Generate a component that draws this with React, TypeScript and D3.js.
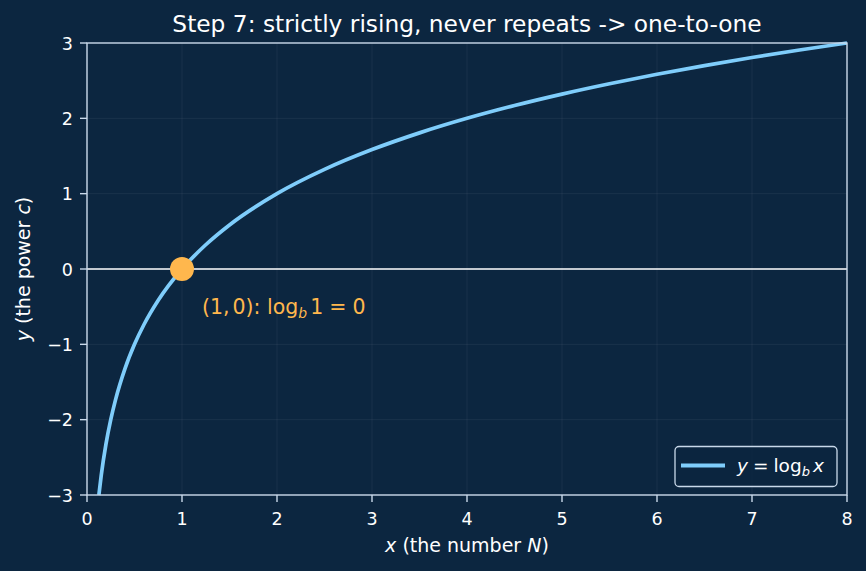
import * as d3 from 'd3'

const curveX = [0.125, 0.15, 0.2, 0.25, 0.3, 0.4, 0.5, 0.6, 0.75, 1, 1.25, 1.5, 2, 2.5, 3, 3.5, 4, 4.5, 5, 5.5, 6, 6.5, 7, 7.5, 8]
const curveY = [-3, -2.737, -2.322, -2, -1.737, -1.322, -1, -0.737, -0.415, 0, 0.322, 0.585, 1, 1.322, 1.585, 1.807, 2, 2.17, 2.322, 2.459, 2.585, 2.7, 2.807, 2.907, 3]
const xTicks = [0, 1, 2, 3, 4, 5, 6, 7, 8]
const yTicks = [-3, -2, -1, 0, 1, 2, 3]
const markX = 1
const markY = 0

const W = 866
const H = 571
const M = { left: 87, right: 847, top: 43, bottom: 495 }
const BG = '#0c2640'
const SPINE = '#c9d9ea'
const CURVE = '#7fcdfb'
const ORANGE = '#ffb74d'
const FONT = 'DejaVu Sans, sans-serif'

export default function App() {
  const x = d3.scaleLinear().domain([0, 8]).range([M.left, M.right])
  const y = d3.scaleLinear().domain([-3, 3]).range([M.bottom, M.top])
  const pts = curveX.map((v, i) => [v, curveY[i]] as [number, number])
  const line = d3.line<[number, number]>().x((d) => x(d[0])).y((d) => y(d[1])).curve(d3.curveMonotoneX)

  return (
    <svg width={W} height={H} style={{ position: 'absolute', left: 0, top: 0, display: 'block', background: BG }} fontFamily={FONT}>
      <rect width={W} height={H} fill={BG} />
      {/* grid */}
      {xTicks.map((t) => (
        <line key={'gx' + t} x1={x(t)} x2={x(t)} y1={M.top} y2={M.bottom} stroke="#ffffff" strokeOpacity={0.08} strokeWidth={0.8} />
      ))}
      {yTicks.map((t) => (
        <line key={'gy' + t} x1={M.left} x2={M.right} y1={y(t)} y2={y(t)} stroke="#ffffff" strokeOpacity={0.08} strokeWidth={0.8} />
      ))}
      {/* zero line */}
      <line x1={M.left} x2={M.right} y1={y(0)} y2={y(0)} stroke="#ffffff" strokeWidth={1.6} />
      <defs>
        <clipPath id="plot">
          <rect x={M.left} y={M.top - 2} width={M.right - M.left} height={M.bottom - M.top + 4} />
        </clipPath>
      </defs>
      <path d={line(pts) ?? ''} fill="none" stroke={CURVE} strokeWidth={3.7} clipPath="url(#plot)" />
      <circle cx={x(markX)} cy={y(markY)} r={12} fill={ORANGE} />
      <text x={202} y={314} fill={ORANGE} fontSize={20.5}>
        (1,<tspan dx={3}>0): log</tspan><tspan fontSize={14} fontStyle="italic" dy={4}>b</tspan><tspan dy={-4} dx={3}>1</tspan><tspan dx={6}>=</tspan><tspan dx={6}>0</tspan>
      </text>
      {/* spines */}
      <rect x={M.left} y={M.top} width={M.right - M.left} height={M.bottom - M.top} fill="none" stroke={SPINE} strokeWidth={1.4} />
      {/* ticks */}
      {xTicks.map((t) => (
        <g key={'tx' + t}>
          <line x1={x(t)} x2={x(t)} y1={M.bottom} y2={M.bottom + 7} stroke={SPINE} strokeWidth={1.4} />
          <text x={x(t)} y={525} fill="#ffffff" fontSize={17.5} textAnchor="middle">{t}</text>
        </g>
      ))}
      {yTicks.map((t) => (
        <g key={'ty' + t}>
          <line x1={M.left - 7} x2={M.left} y1={y(t)} y2={y(t)} stroke={SPINE} strokeWidth={1.4} />
          <text x={M.left - 14} y={y(t) + 6.5} fill="#ffffff" fontSize={17.5} textAnchor="end">{t < 0 ? '\u2212' + Math.abs(t) : t}</text>
        </g>
      ))}
      {/* axis labels */}
      <text x={(M.left + M.right) / 2} y={552} fill="#ffffff" fontSize={19} textAnchor="middle">
        <tspan fontStyle="italic">x</tspan> (the number <tspan fontStyle="italic">N</tspan>)
      </text>
      <text transform={`translate(30, ${y(0)}) rotate(-90)`} fill="#ffffff" fontSize={19} textAnchor="middle">
        <tspan fontStyle="italic">y</tspan> (the power <tspan fontStyle="italic">c</tspan>)
      </text>
      {/* title */}
      <text x={(M.left + M.right) / 2} y={32} fill="#ffffff" fontSize={23.3} textAnchor="middle">Step 7: strictly rising, never repeats -&gt; one-to-one</text>
      {/* legend */}
      <rect x={675} y={446.5} width={162} height={40} rx={4} fill={BG} fillOpacity={0.85} stroke={SPINE} strokeWidth={1.3} />
      <line x1={681} x2={725} y1={465.5} y2={465.5} stroke={CURVE} strokeWidth={3.8} />
      <text x={737} y={472} fill="#ffffff" fontSize={18.5}>
        <tspan fontStyle="italic">y</tspan><tspan dx={5}>=</tspan><tspan dx={5}>log</tspan><tspan fontSize={13} fontStyle="italic" dy={4}>b</tspan><tspan dy={-4} dx={3} fontStyle="italic">x</tspan>
      </text>
    </svg>
  )
}
